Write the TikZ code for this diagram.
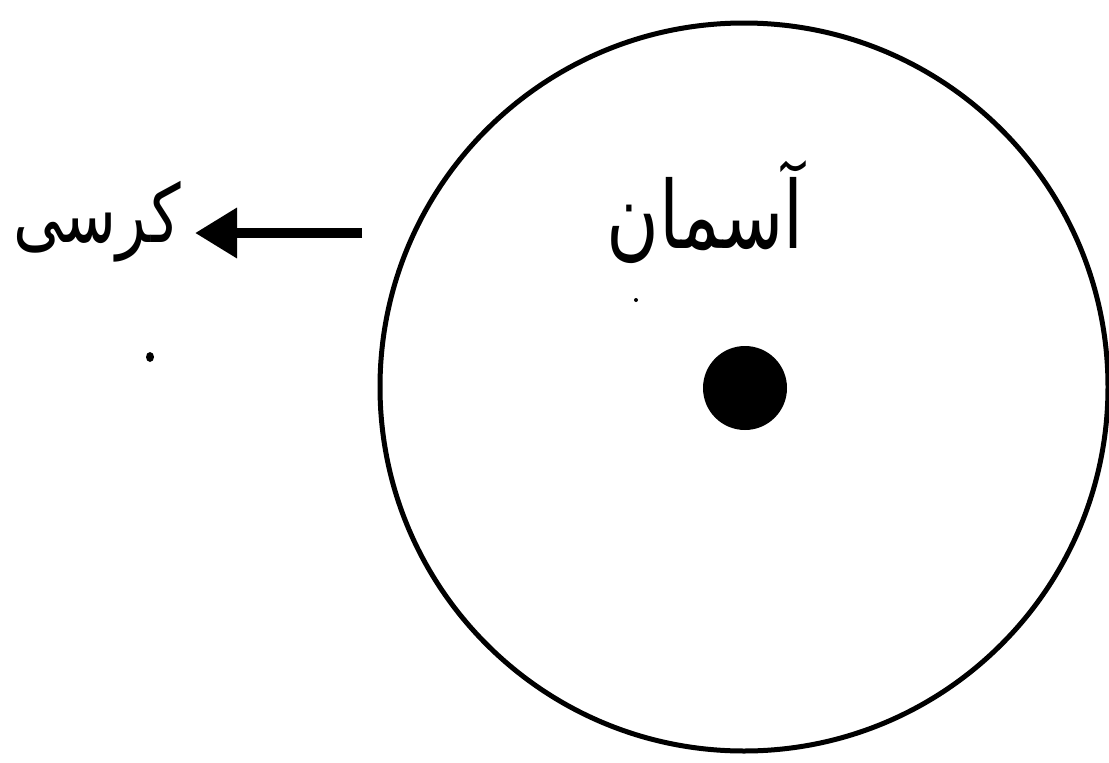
\documentclass[tikz,border=0pt]{standalone}
\usepackage{fontspec}
\usetikzlibrary{arrows.meta}
\TeXXeTstate=1
\newfontfamily\arabicfont[Script=Arabic]{DejaVu Sans}
\begin{document}
\begin{tikzpicture}[x=1pt,y=-1pt,
  urdu/.style={font=\arabicfont, inner sep=0pt},
  speck/.style={fill=black, draw=none}]
\useasboundingbox[fill=white] (0,0) rectangle (1109,763);
\node[circle, draw=black, line width=5pt, minimum size=728pt, inner sep=0pt] (sky) at (744,387) {};
\node[circle, fill=black, minimum size=84pt, inner sep=0pt] (center) at (745,388) {};
\node[urdu, font=\arabicfont\fontsize{72}{80}\selectfont, yscale=1.3] (asman) at (705,212) {\beginR آسمان\endR};
\node[urdu, font=\arabicfont\fontsize{62}{70}\selectfont, yscale=1.3] (kursi) at (97,222) {\beginR کرسی\endR};
\coordinate (astart) at (362,233);
\coordinate (aend) at (195,233);
\draw[line width=10pt, -{Triangle[length=42pt,width=48pt]}] (astart) -- (aend);
\fill[speck] (150,357) ellipse (4pt and 5pt);
\fill[speck] (636,300) circle (2pt);
\end{tikzpicture}
\end{document}
